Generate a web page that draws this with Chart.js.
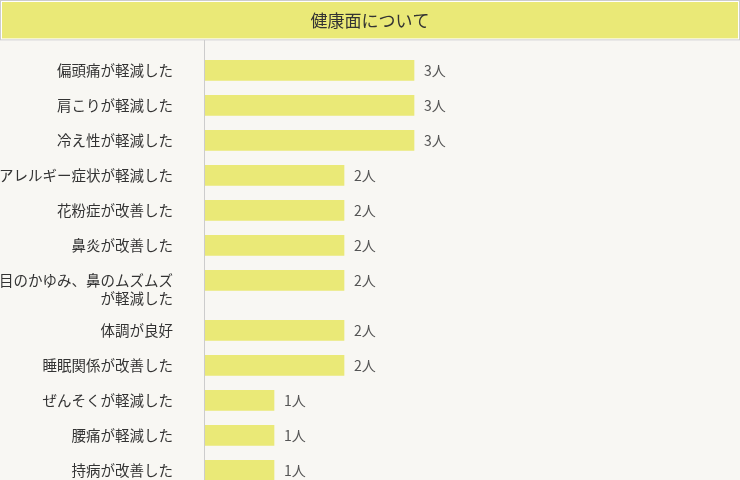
<!DOCTYPE html>
<html lang="ja">
<head>
<meta charset="utf-8">
<title>健康面について</title>
<script src="https://cdn.jsdelivr.net/npm/chart.js@4/dist/chart.umd.min.js"></script>
<style>
  html, body { margin: 0; padding: 0; background: #f8f7f3; overflow: hidden; }
  #chart { display: block; }
</style>
</head>
<body>
<canvas id="chart" width="740" height="480"></canvas>
<script>
const TITLE = "健康面について";
const UNIT = "人";

const categories = [
    "偏頭痛が軽減した",
    "肩こりが軽減した",
    "冷え性が軽減した",
    "アレルギー症状が軽減した",
    "花粉症が改善した",
    "鼻炎が改善した",
    ["目のかゆみ、鼻のムズムズ", "が軽減した"],
    "体調が良好",
    "睡眠関係が改善した",
    "ぜんそくが軽減した",
    "腰痛が軽減した",
    "持病が改善した",
];

const counts = [3, 3, 3, 2, 2, 2, 2, 2, 2, 1, 1, 1];

const FONT = "'Noto Sans CJK JP', 'Noto Sans', sans-serif";
const YELLOW = "#eae977";
const ROW = 35;        // height of a one-line row
const EXTRA_LINE = 15; // extra height per additional label line
const FIRST = 30;      // distance from plot top to first bar center
const LINE_H = 18;

const lineCount = (label) => Array.isArray(label) ? label.length : 1;

// category scale whose rows grow with the number of label lines
class RowScale extends Chart.CategoryScale {
    static id = "rows";
    static defaults = Chart.CategoryScale.defaults;

    getPixelForValue(value) {
        const i = typeof value === "number" ? value : this.parse(value);
        const labels = this.getLabels();
        let y = this.top + FIRST;
        for (let j = 0; j < i; j++) {
            y += ROW + EXTRA_LINE * (lineCount(labels[j]) - 1);
        }
        return y;
    }

    getPixelForTick(index) {
        const tick = this.ticks[index];
        if (!tick) return null;
        const lines = lineCount(this.getLabels()[tick.value]);
        return this.getPixelForValue(tick.value) + (lines - 1) * LINE_H / 2;
    }
}
Chart.register(RowScale);

const titleBox = {
    id: "titleBox",
    beforeDraw(chart) {
        const ctx = chart.ctx;
        const h = chart.titleBlock.bottom;
        ctx.save();
        ctx.fillStyle = "#ffffff";
        ctx.fillRect(0, 0, chart.width, h);
        ctx.strokeStyle = "#cccccc";
        ctx.lineWidth = 1;
        ctx.strokeRect(0.5, 0.5, chart.width - 1, h - 1);
        ctx.fillStyle = YELLOW;
        ctx.fillRect(2, 2, chart.width - 4, h - 4);
        ctx.restore();
    }
};

const valueLabels = {
    id: "valueLabels",
    afterDatasetsDraw(chart) {
        const ctx = chart.ctx;
        const meta = chart.getDatasetMeta(0);
        ctx.save();
        ctx.font = "14px " + FONT;
        ctx.fillStyle = "#555555";
        ctx.textAlign = "left";
        ctx.textBaseline = "middle";
        meta.data.forEach((bar, i) => {
            ctx.fillText(counts[i] + UNIT, bar.x + 10, bar.y);
        });
        ctx.restore();
    }
};

const chart = new Chart(document.getElementById("chart"), {
    type: "bar",
    data: {
        labels: categories,
        datasets: [{
            data: counts,
            backgroundColor: YELLOW,
            borderWidth: 0,
            barThickness: 20,
        }],
    },
    options: {
        indexAxis: "y",
        responsive: false,
        animation: false,
        events: [],
        layout: { padding: 0 },
        plugins: {
            legend: { display: false },
            tooltip: { enabled: false },
            title: {
                display: true,
                text: TITLE,
                color: "#333333",
                font: { family: FONT, size: 17, weight: "normal", lineHeight: 1.2 },
                padding: { top: 10, bottom: 10 },
            },
        },
        scales: {
            x: {
                type: "linear",
                display: false,
                min: 0,
                max: 7.657,
            },
            y: {
                type: "rows",
                grid: { display: false, drawTicks: false },
                border: { display: true, color: "#cccccc", width: 1, z: 1 },
                ticks: {
                    autoSkip: false,
                    padding: 31,
                    color: "#333333",
                    font: { family: FONT, size: 14.5, lineHeight: LINE_H / 14.5 },
                },
                afterFit(scale) {
                    scale.width = 204;
                    scale.paddingTop = 0;
                    scale.paddingBottom = 0;
                },
            },
        },
    },
    plugins: [titleBox, valueLabels],
});
</script>
</body>
</html>
